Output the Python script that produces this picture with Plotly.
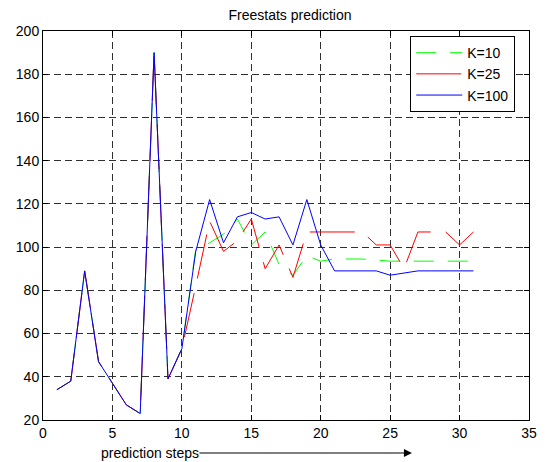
import plotly.graph_objects as go

steps = list(range(1, 32))
k10 = [34, 38, 89, 47, 37, 27, 23, 190, 39, 53, 99, 102, 106, 113, 101, 107, 92, 87, 96, 93.5,
       94.5, 94.5, 94.5, 94, 93.5, 93.5, 93.5, 93.5, 93.5, 93.5, 93.5]
k25 = [34, 38, 89, 47, 37, 27, 23, 190, 39, 53, 82, 112, 98, 103, 113, 90, 101, 86, 107, 107,
       107, 107, 107, 101, 101, 90, 107, 107, 107, 101, 107]
k100 = [34, 38, 89, 47, 37, 27, 23, 190, 39, 53, 98, 122, 102, 114, 116, 113, 114, 101, 122, 101,
        89, 89, 89, 89, 87, 88, 89, 89, 89, 89, 89]
series_names = ["K=10", "K=25", "K=100"]
x_ticks = [0, 5, 10, 15, 20, 25, 30, 35]
y_ticks = [20, 40, 60, 80, 100, 120, 140, 160, 180, 200]

FONT = "Liberation Sans, Arial, Helvetica, sans-serif"

fig = go.Figure()
fig.add_trace(go.Scatter(x=steps, y=k10, mode="lines", name=series_names[0],
                         line=dict(color="#00ff00", width=1, dash="20px,14px")))
fig.add_trace(go.Scatter(x=steps, y=k25, mode="lines", name=series_names[1],
                         line=dict(color="#ff0000", width=1, dash="45px,15px")))
fig.add_trace(go.Scatter(x=steps, y=k100, mode="lines", name=series_names[2],
                         line=dict(color="#0000ff", width=1)))

axis_common = dict(
    showline=True, linecolor="black", linewidth=1, mirror="allticks",
    ticks="inside", ticklen=5, tickcolor="black",
    showgrid=True, gridcolor="#303030", gridwidth=1, griddash="7px,4px",
    zeroline=False, tickfont=dict(family=FONT, size=14, color="black"),
)

fig.update_xaxes(range=[0, 35], tickvals=x_ticks, **axis_common)
fig.update_yaxes(range=[20, 200], tickvals=y_ticks, **axis_common)

fig.update_layout(
    width=547, height=462,
    margin=dict(l=43, r=10, t=31, b=42),
    paper_bgcolor="white", plot_bgcolor="white",
    title=dict(text="Freestats prediction", x=(43 + 537) / 2 / 547, xanchor="center",
               y=1 - 15 / 462, yanchor="middle",
               font=dict(family=FONT, size=14, color="black")),
    font=dict(family=FONT, size=14, color="black"),
    legend=dict(x=0.9717, xanchor="right", y=0.987, yanchor="top",
                bgcolor="white", bordercolor="black", borderwidth=1,
                itemwidth=46,
                font=dict(family=FONT, size=14, color="black")),
    showlegend=True,
)

fig.add_annotation(text="prediction steps", xref="paper", yref="paper",
                   x=(152 - 43) / 494, y=(420 - 453) / 389, showarrow=False,
                   xanchor="center", yanchor="middle",
                   font=dict(family=FONT, size=14, color="black"))
fig.add_annotation(text="", xref="paper", yref="paper",
                   x=(418 - 43) / 494, y=(420 - 453) / 389,
                   ax=-214, ay=0, showarrow=True, arrowhead=2, arrowsize=1.6,
                   arrowwidth=1, arrowcolor="black")

fig.write_html("out.html", config={"displayModeBar": False},
               post_script="document.body.style.margin='0';document.body.style.overflow='hidden';")
